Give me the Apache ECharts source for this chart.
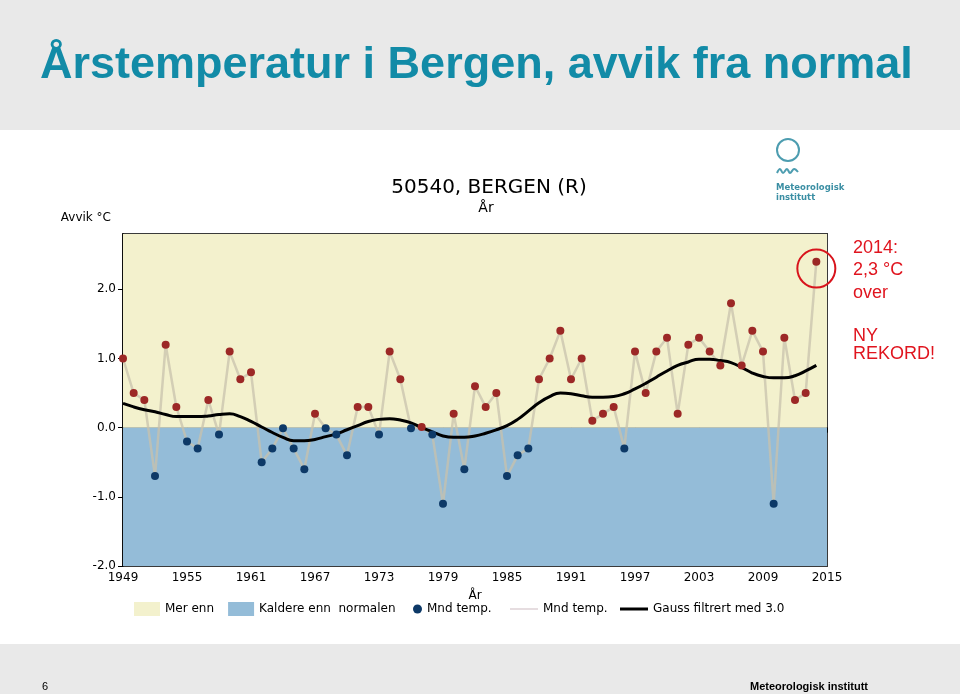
<!DOCTYPE html>
<html>
<head>
<meta charset="utf-8">
<script src="https://cdn.jsdelivr.net/npm/echarts@6/dist/echarts.min.js"></script>
<style>
html,body{margin:0;padding:0;}
body{width:960px;height:694px;background:linear-gradient(to bottom,#e9e9e9 0px,#e9e9e9 130px,#ffffff 130px,#ffffff 644px,#e9e9e9 644px,#e9e9e9 694px);}
#chart{width:960px;height:694px;}
</style>
</head>
<body>
<div id="chart"></div>
<script>
// Categories (years on the x axis; 2015 is the axis end only)
const years = [];
for (let y = 1949; y <= 2015; y++) years.push(String(y));

// Yearly temperature anomaly (°C) vs normal, Bergen 1949–2014
const anomaly = [
  1.0, 0.5, 0.4, -0.7, 1.2, 0.3, -0.2, -0.3, 0.4, -0.1,   // 1949-1958
  1.1, 0.7, 0.8, -0.5, -0.3, -0.01, -0.3, -0.6, 0.2, -0.01, // 1959-1968
  -0.1, -0.4, 0.3, 0.3, -0.1, 1.1, 0.7, -0.01, 0.01, -0.1,  // 1969-1978
  -1.1, 0.2, -0.6, 0.6, 0.3, 0.5, -0.7, -0.4, -0.3, 0.7,    // 1979-1988
  1.0, 1.4, 0.7, 1.0, 0.1, 0.2, 0.3, -0.3, 1.1, 0.5,        // 1989-1998
  1.1, 1.3, 0.2, 1.2, 1.3, 1.1, 0.9, 1.8, 0.9, 1.4,         // 1999-2008
  1.1, -1.1, 1.3, 0.4, 0.5, 2.4                             // 2009-2014
];

// Gaussian-filtered curve (sigma 3.0)
const gauss = [
  0.35, 0.30, 0.26, 0.23, 0.19, 0.16, 0.16, 0.16, 0.17, 0.19,   // 1949-1958
  0.20, 0.16, 0.09, 0.01, -0.07, -0.14, -0.19, -0.19, -0.17, -0.13, // 1959-1968
  -0.09, -0.03, 0.03, 0.09, 0.12, 0.13, 0.11, 0.07, 0.00, -0.06,  // 1969-1978
  -0.12, -0.14, -0.14, -0.12, -0.08, -0.03, 0.03, 0.12, 0.24, 0.36, // 1979-1988
  0.45, 0.50, 0.49, 0.46, 0.44, 0.44, 0.45, 0.49, 0.56, 0.64,   // 1989-1998
  0.73, 0.82, 0.90, 0.95, 0.99, 0.99, 0.97, 0.94, 0.87, 0.79,   // 1999-2008
  0.74, 0.72, 0.72, 0.75, 0.82, 0.90                            // 2009-2014
];

// Y tick values shown
const yTicks = [-2, -1, 0, 1, 2];
const recordYear = '2014';
const recordValue = 2.3;

const WARM = '#9c2826', COLD = '#0d3967';
const AXFONT = '"DejaVu Sans", sans-serif';

const chart = echarts.init(document.getElementById('chart'), null, {renderer: 'canvas'});

const legendText = {fontFamily: AXFONT, fontSize: 12, color: '#000'};

chart.setOption({
  animation: false,
  backgroundColor: 'transparent',
  grid: {left: 123, right: 133, top: 234, bottom: 128, show: true, borderColor: '#3a3a3a', borderWidth: 2, backgroundColor: 'transparent'},
  xAxis: {
    type: 'category', data: years, boundaryGap: false,
    name: 'År', nameLocation: 'middle', nameGap: 24,
    nameTextStyle: {fontFamily: AXFONT, fontSize: 12, color: '#000'},
    axisLine: {lineStyle: {color: '#000', width: 1.5}},
    axisTick: {interval: 5, length: 5, lineStyle: {color: '#000'}},
    axisLabel: {interval: 5, fontFamily: AXFONT, fontSize: 12, color: '#000', margin: 6},
    splitLine: {show: false}
  },
  yAxis: {
    type: 'value', min: -2, max: 2.8, interval: 1,
    name: 'Avvik °C', nameLocation: 'end', nameGap: 10,
    nameTextStyle: {fontFamily: AXFONT, fontSize: 12, color: '#000', align: 'right', padding: [0, 12, 0, 0]},
    axisLine: {show: true, lineStyle: {color: '#000', width: 1.5}},
    axisTick: {show: true, length: 5, customValues: yTicks, lineStyle: {color: '#000'}},
    axisLabel: {fontFamily: AXFONT, fontSize: 12, color: '#000', margin: 7, customValues: yTicks,
      formatter: v => yTicks.includes(Math.round(v * 10) / 10) ? v.toFixed(1) : ''},
    splitLine: {show: false}
  },
  legend: [
    {left: 129, top: 597, itemWidth: 26, itemHeight: 14, itemGap: 14, icon: 'rect', textStyle: legendText,
     data: ['Mer enn', 'Kaldere enn  normalen']},
    {left: 408, top: 598, itemWidth: 9, itemHeight: 9, textStyle: legendText,
     data: [{name: 'Mnd temp.', icon: 'circle', itemStyle: {color: COLD, opacity: 1}}]},
    {left: 505, top: 598, itemWidth: 28, itemHeight: 2, textStyle: legendText,
     data: [{name: 'Mnd temp. ', icon: 'rect', itemStyle: {color: '#e6dde0'}}]},
    {left: 615, top: 598, itemWidth: 28, itemHeight: 3, textStyle: legendText,
     data: [{name: 'Gauss filtrert med 3.0', icon: 'rect', itemStyle: {color: '#000'}}]}
  ],
  series: [
    {name: 'Mer enn', type: 'line', data: [], color: '#f3f1cd', z: 1, symbol: 'none',
     markArea: {silent: true, itemStyle: {color: '#f3f1cd'}, data: [[{yAxis: 0}, {yAxis: 2.8}]]}},
    {name: 'Kaldere enn  normalen', type: 'line', data: [], color: '#94bcd8', z: 1, symbol: 'none',
     markArea: {silent: true, itemStyle: {color: '#94bcd8'}, data: [[{yAxis: -2}, {yAxis: 0}]]}},
    {name: 'Mnd temp. ', type: 'line', data: anomaly, z: 3, symbol: 'none', showSymbol: false,
     color: '#e6dde0',
     lineStyle: {color: 'rgba(200,194,172,0.75)', width: 2.5}},
    {name: 'Gauss filtrert med 3.0', type: 'line', data: gauss, z: 4, symbol: 'none', smooth: true,
     color: '#000', lineStyle: {color: '#000', width: 3}},
    {name: 'Mnd temp.', type: 'scatter', data: anomaly, z: 5, symbolSize: 8,
     itemStyle: {opacity: 1, color: p => p.value >= 0 ? WARM : COLD},
     markPoint: {silent: true, symbol: 'circle', symbolSize: 38, label: {show: false},
       itemStyle: {color: 'rgba(0,0,0,0)', borderColor: '#d8141c', borderWidth: 2},
       data: [{coord: [recordYear, recordValue]}]}}
  ],
  graphic: [
    {type: 'text', x: 40, y: 66, style: {text: 'Årstemperatur i Bergen, avvik fra normal', font: 'bold 45px "Liberation Sans", Arial, sans-serif', fill: '#128ba7', verticalAlign: 'middle'}},
    {type: 'text', x: 489, y: 188, style: {text: '50540, BERGEN (R)', font: 'normal 20px "DejaVu Sans", sans-serif', fill: '#000', align: 'center', verticalAlign: 'middle'}},
    {type: 'text', x: 486, y: 208, style: {text: 'År', font: 'normal 14px "DejaVu Sans", sans-serif', fill: '#000', align: 'center', verticalAlign: 'middle'}},
    // logo
    {type: 'circle', shape: {cx: 788, cy: 150, r: 11}, style: {fill: 'none', stroke: '#4d9db0', lineWidth: 2}},
    {type: 'polyline', shape: {points: [[777, 173], [780, 169], [783, 173], [787, 169], [790, 173], [794, 169], [798, 172]], smooth: 0.4}, style: {fill: 'none', stroke: '#4d9db0', lineWidth: 2}},
    {type: 'text', x: 776, y: 188, style: {text: 'Meteorologisk', font: 'bold 8.5px "DejaVu Sans", sans-serif', fill: '#3a8ea3', verticalAlign: 'middle'}},
    {type: 'text', x: 776, y: 198, style: {text: 'institutt', font: 'bold 8.5px "DejaVu Sans", sans-serif', fill: '#3a8ea3', verticalAlign: 'middle'}},
    // annotation
    {type: 'text', x: 853, y: 248, style: {text: '2014:', font: 'normal 18px "Liberation Sans", Arial, sans-serif', fill: '#e0141e', verticalAlign: 'middle'}},
    {type: 'text', x: 853, y: 270, style: {text: '2,3 °C', font: 'normal 18px "Liberation Sans", Arial, sans-serif', fill: '#e0141e', verticalAlign: 'middle'}},
    {type: 'text', x: 853, y: 293, style: {text: 'over', font: 'normal 18px "Liberation Sans", Arial, sans-serif', fill: '#e0141e', verticalAlign: 'middle'}},
    {type: 'text', x: 853, y: 336, style: {text: 'NY', font: 'normal 18px "Liberation Sans", Arial, sans-serif', fill: '#e0141e', verticalAlign: 'middle'}},
    {type: 'text', x: 853, y: 354, style: {text: 'REKORD!', font: 'normal 18px "Liberation Sans", Arial, sans-serif', fill: '#e0141e', verticalAlign: 'middle'}},
    // footer
    {type: 'text', x: 42, y: 687, style: {text: '6', font: 'normal 11px "Liberation Sans", Arial, sans-serif', fill: '#000', verticalAlign: 'middle'}},
    {type: 'text', x: 868, y: 687, style: {text: 'Meteorologisk institutt', font: 'bold 11px "Liberation Sans", Arial, sans-serif', fill: '#000', align: 'right', verticalAlign: 'middle'}}
  ]
});
</script>
</body>
</html>
